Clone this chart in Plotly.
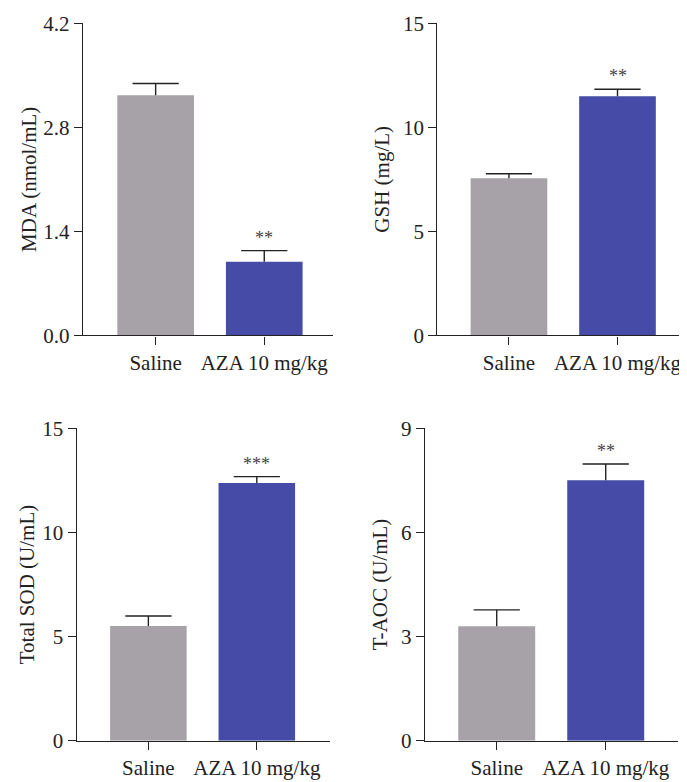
import plotly.graph_objects as go

# page body has an 8px margin, so the figure is sized to fit the window
OFF = 8
W, H = 687 - OFF, 782 - OFF

groups = ["Saline", "AZA 10 mg/kg"]
bar_colors = ["#a7a2a8", "#454ba6"]

mda_mean = [3.23, 0.99]
mda_sem = [0.16, 0.15]
gsh_mean = [7.55, 11.49]
gsh_sem = [0.22, 0.34]
sod_mean = [5.51, 12.37]
sod_sem = [0.48, 0.31]
taoc_mean = [3.30, 7.50]
taoc_sem = [0.47, 0.47]

sig_mda = ["", "**"]
sig_gsh = ["", "**"]
sig_sod = ["", "***"]
sig_taoc = ["", "**"]

titles = ["MDA (nmol/mL)", "GSH (mg/L)", "Total SOD (U/mL)", "T-AOC (U/mL)"]
y_ranges = [[0, 4.2], [0, 15], [0, 15], [0, 9]]
y_ticks = [[0.0, 1.4, 2.8, 4.2], [0, 5, 10, 15], [0, 5, 10, 15], [0, 3, 6, 9]]
y_tick_text = [["0.0", "1.4", "2.8", "4.2"], ["0", "5", "10", "15"],
               ["0", "5", "10", "15"], ["0", "3", "6", "9"]]

# panel pixel boxes in window pixels (left, right, top, bottom) and x ranges
panels = [
    dict(l=83, r=333, t=23.3, b=335.3, xr=[-0.669, 1.633], so=0),
    dict(l=437.3, r=686, t=23.3, b=335.3, xr=[-0.660, 1.631], so=7),
    dict(l=76.7, r=330, t=428.3, b=740.7, xr=[-0.661, 1.675], so=1),
    dict(l=425, r=678, t=428.3, b=740.7, xr=[-0.658, 1.663], so=7),
]

means = [mda_mean, gsh_mean, sod_mean, taoc_mean]
sems = [mda_sem, gsh_sem, sod_sem, taoc_sem]
sigs = [sig_mda, sig_gsh, sig_sod, sig_taoc]

FONT = "Liberation Serif"
LINE = "#222222"
FS = 21

fig = go.Figure()
annotations = []
for i in range(4):
    xa = "x" if i == 0 else f"x{i+1}"
    ya = "y" if i == 0 else f"y{i+1}"
    fig.add_trace(go.Bar(
        x=groups, y=means[i], xaxis=xa, yaxis=ya,
        marker=dict(color=bar_colors, line=dict(width=0)),
        width=0.706, showlegend=False,
    ))
    tops = [m + s for m, s in zip(means[i], sems[i])]
    # upper error bar: stem down to the bar top, cap drawn as a line marker
    fig.add_trace(go.Scatter(
        x=groups, y=tops, xaxis=xa, yaxis=ya, mode="markers",
        marker=dict(symbol="line-ew", size=33, color=LINE,
                    line=dict(width=1.4, color=LINE)),
        error_y=dict(type="data", array=[0, 0], arrayminus=sems[i], symmetric=False,
                     color=LINE, thickness=1.4, width=0),
        showlegend=False, hoverinfo="skip",
    ))
    for j, s in enumerate(sigs[i]):
        if s:
            annotations.append(dict(
                x=groups[j], y=tops[j], xref=xa, yref=ya,
                text=s, showarrow=False, yanchor="bottom", yshift=1,
                font=dict(family=FONT, size=18, color="#444444"),
            ))

layout = dict(
    template="none",
    width=W, height=H, margin=dict(l=0, r=0, t=0, b=0, autoexpand=False),
    paper_bgcolor="white", plot_bgcolor="white",
    annotations=annotations,
    font=dict(family=FONT, size=FS, color="#222222"),
)
for i, p in enumerate(panels):
    xk = "xaxis" if i == 0 else f"xaxis{i+1}"
    yk = "yaxis" if i == 0 else f"yaxis{i+1}"
    ya = "y" if i == 0 else f"y{i+1}"
    xa = "x" if i == 0 else f"x{i+1}"
    l, r = p["l"] - OFF, p["r"] - OFF
    t, b = p["t"] - OFF, p["b"] - OFF
    layout[xk] = dict(
        domain=[l / W, min(r / W, 1.0)], anchor=ya, type="category",
        range=p["xr"], showline=True, linecolor=LINE, linewidth=1.4,
        ticks="outside", ticklen=8, tickwidth=1.4, tickcolor=LINE,
        showgrid=False, zeroline=False, fixedrange=True, automargin=False,
        tickfont=dict(family=FONT, size=FS, color="#222222"),
    )
    layout[yk] = dict(
        domain=[(H - b) / H, (H - t) / H], anchor=xa,
        range=y_ranges[i], tickvals=y_ticks[i], ticktext=y_tick_text[i],
        showline=True, linecolor=LINE, linewidth=1.4,
        ticks="outside", ticklen=8, tickwidth=1.4, tickcolor=LINE,
        showgrid=False, zeroline=False, fixedrange=True, automargin=False,
        tickfont=dict(family=FONT, size=FS, color="#222222"),
        title=dict(text=titles[i], standoff=p["so"],
                   font=dict(family=FONT, size=FS, color="#222222")),
    )

fig.update_layout(**layout)
fig.write_html("out.html")
